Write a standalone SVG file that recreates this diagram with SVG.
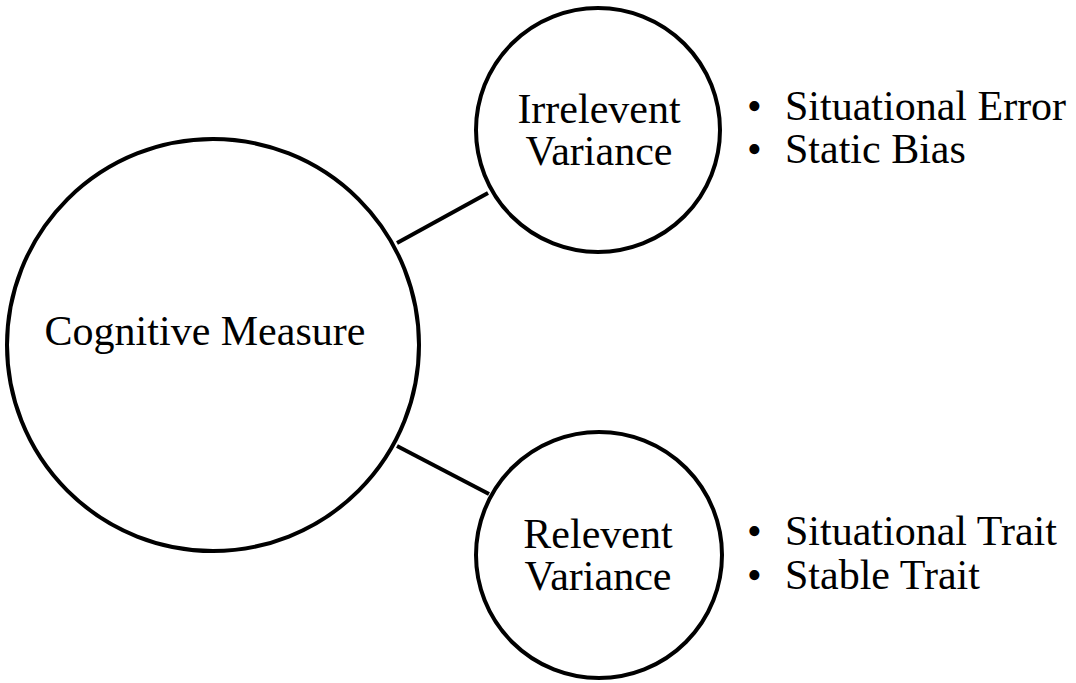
<svg xmlns="http://www.w3.org/2000/svg" width="1076" height="683" viewBox="0 0 1076 683">
<style>
.n{fill:#fff;stroke:#000;stroke-width:4}
.t{font-family:"Liberation Serif","Times New Roman",serif;font-size:42px;fill:#000}
.c{stroke:#000;stroke-width:4;fill:none}
</style>
<rect width="1076" height="683" fill="#fff"/>
<g id="connectors">
<line class="c" x1="397" y1="243" x2="488" y2="193"/>
<line class="c" x1="397" y1="446" x2="489" y2="494"/>
</g>
<g id="cognitive-measure">
<circle class="n" cx="213" cy="345" r="206"/>
<text class="t" x="205" y="345" text-anchor="middle">Cognitive Measure</text>
</g>
<g id="irrelevent-variance">
<circle class="n" cx="598" cy="130" r="122"/>
<text class="t" x="599" y="123" text-anchor="middle">Irrelevent</text>
<text class="t" x="599" y="165" text-anchor="middle">Variance</text>
</g>
<g id="irrelevent-list">
<text class="t" x="747" y="120">•</text>
<text class="t" x="785" y="120">Situational Error</text>
<text class="t" x="747" y="163">•</text>
<text class="t" x="785" y="163">Static Bias</text>
</g>
<g id="relevent-variance">
<circle class="n" cx="599" cy="555" r="123"/>
<text class="t" x="598" y="548" text-anchor="middle">Relevent</text>
<text class="t" x="598" y="590" text-anchor="middle">Variance</text>
</g>
<g id="relevent-list">
<text class="t" x="747" y="545">•</text>
<text class="t" x="785" y="545">Situational Trait</text>
<text class="t" x="747" y="589">•</text>
<text class="t" x="785" y="589">Stable Trait</text>
</g>
</svg>
